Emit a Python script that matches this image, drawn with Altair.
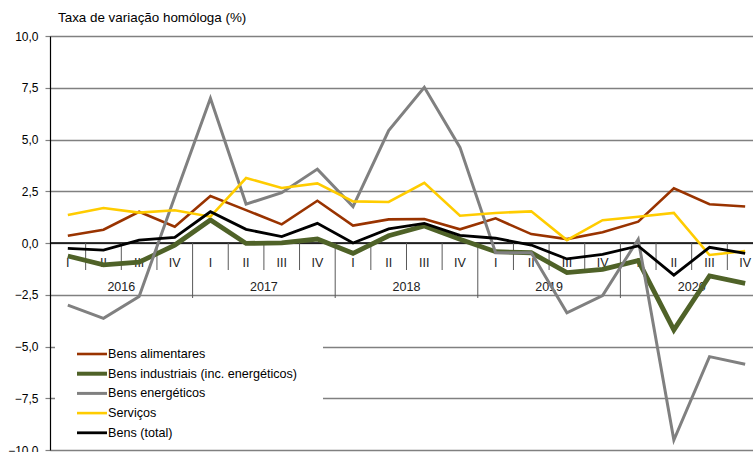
import altair as alt
import pandas as pd

# ---- data ----
quarters = ["I", "II", "III", "IV"] * 5
years = ["2016", "2017", "2018", "2019", "2020"]

series_names = [
    "Bens alimentares",
    "Bens industriais (inc. energéticos)",
    "Bens energéticos",
    "Serviços",
    "Bens (total)",
]

alimentares = [0.35, 0.64, 1.51, 0.79, 2.27, 1.59, 0.90, 2.04, 0.84, 1.14,
               1.16, 0.66, 1.19, 0.43, 0.19, 0.52, 1.03, 2.64, 1.87, 1.76]
industriais = [-0.63, -1.06, -0.93, -0.10, 1.11, -0.02, 0.01, 0.19, -0.50, 0.35,
               0.82, 0.18, -0.42, -0.47, -1.43, -1.27, -0.85, -4.20, -1.59, -1.95]
energeticos = [-3.00, -3.64, -2.59, 2.24, 6.99, 1.88, 2.43, 3.57, 1.76, 5.43,
               7.52, 4.62, -0.47, -0.47, -3.37, -2.54, 0.18, -9.52, -5.49, -5.86]
servicos = [1.35, 1.69, 1.47, 1.58, 1.27, 3.14, 2.66, 2.88, 2.01, 1.98,
            2.91, 1.32, 1.45, 1.53, 0.14, 1.10, 1.27, 1.45, -0.58, -0.39]
total = [-0.26, -0.34, 0.14, 0.27, 1.51, 0.66, 0.31, 0.95, 0.00, 0.68,
         0.95, 0.37, 0.23, -0.10, -0.77, -0.55, -0.14, -1.55, -0.21, -0.50]

series_values = [alimentares, industriais, energeticos, servicos, total]
colors = ["#993300", "#4F6228", "#808080", "#FFCC00", "#000000"]
widths = [2.6, 4.8, 3.0, 2.6, 2.8]

FONT = "Liberation Sans"
W, H = 703, 414
x_scale = alt.Scale(domain=[0, 19.72], nice=False, zero=False)
y_scale = alt.Scale(domain=[-10, 10], nice=False)

# ---- base frame with y grid ----
frame_df = pd.DataFrame({"v": [0.0]})
grid = alt.Chart(frame_df).mark_rule(color="black", strokeWidth=1.3).encode(
    y=alt.Y("v:Q", scale=y_scale,
            axis=alt.Axis(values=[-10, -7.5, -5, -2.5, 0, 2.5, 5, 7.5, 10],
                          title=None, grid=True, gridColor="#808080", gridWidth=1.4,
                          domainColor="black", domainWidth=1.2,
                          tickColor="#808080", tickSize=5, tickWidth=1.2,
                          labelPadding=7, labelFontSize=12, labelFont=FONT,
                          labelColor="black",
                          labelExpr="replace(format(datum.value, '.1f'), '.', ',')")),
)

# ---- category ticks / labels ----
qdf = pd.DataFrame({"q": quarters, "pos": [i + 0.5 for i in range(20)]})
bounds = pd.DataFrame({"b": [i for i in range(1, 20)]})
bounds["year"] = bounds["b"] % 4 == 0
qticks = alt.Chart(bounds).transform_filter("!datum.year").mark_rule(
    color="#595959", strokeWidth=1).encode(
    x=alt.X("b:Q", scale=x_scale, axis=None),
    y=alt.value(207), y2=alt.value(234))
yticks = alt.Chart(bounds).transform_filter("datum.year").mark_rule(
    color="#595959", strokeWidth=1).encode(
    x=alt.X("b:Q", scale=x_scale, axis=None),
    y=alt.value(207), y2=alt.value(262))
qlabels = alt.Chart(qdf).mark_text(fontSize=12.5, font=FONT, color="#222222",
                                   baseline="middle").encode(
    x=alt.X("pos:Q", scale=x_scale, axis=None), y=alt.value(227), text="q:N")
ydf = pd.DataFrame({"year": years, "pos": [2 + 4 * i for i in range(5)]})
ylabels = alt.Chart(ydf).mark_text(fontSize=12.5, font=FONT, color="#222222",
                                   baseline="middle").encode(
    x=alt.X("pos:Q", scale=x_scale, axis=None), y=alt.value(251), text="year:N")

# ---- legend box (white, hides grid) ----
box = alt.Chart(frame_df).mark_rect(color="white").encode(
    x=alt.value(5), x2=alt.value(273), y=alt.value(304), y2=alt.value(412))

# ---- series lines ----
lines = []
for name, vals, col, w in zip(series_names, series_values, colors, widths):
    d = pd.DataFrame({"pos": [i + 0.5 for i in range(20)], "val": vals, "serie": name})
    lines.append(
        alt.Chart(d).mark_line(color=col, strokeWidth=w, strokeJoin="miter").encode(
            x=alt.X("pos:Q", scale=x_scale, axis=None),
            y=alt.Y("val:Q", scale=y_scale),
        )
    )

# ---- manual legend ----
leg = []
for k, (name, col, w) in enumerate(zip(series_names, colors, widths)):
    ld = pd.DataFrame({"serie": [name]})
    yy = 318 + k * 19.7
    leg.append(alt.Chart(ld).mark_rule(color=col, strokeWidth=min(w, 4)).encode(
        x=alt.value(27), x2=alt.value(57), y=alt.value(yy)))
    leg.append(alt.Chart(ld).mark_text(align="left", baseline="middle", fontSize=12.6,
                                       font=FONT, color="black").encode(
        x=alt.value(58), y=alt.value(yy), text="serie:N"))

title = alt.Chart(frame_df).mark_text(align="left", baseline="middle", fontSize=13.4,
                                      font=FONT, color="black").encode(
    x=alt.value(8), y=alt.value(-18), text=alt.value("Taxa de variação homóloga (%)"))

chart = alt.layer(grid, box, qticks, yticks, qlabels, ylabels, *lines, *leg, title).properties(
    width=W, height=H,
    autosize=alt.AutoSizeParams(type="none"),
    padding={"left": 50, "top": 36, "right": 0, "bottom": 2},
).configure_view(stroke=None).configure(background="white")

chart.save("out.html", embed_options={"renderer": "svg", "actions": False})
